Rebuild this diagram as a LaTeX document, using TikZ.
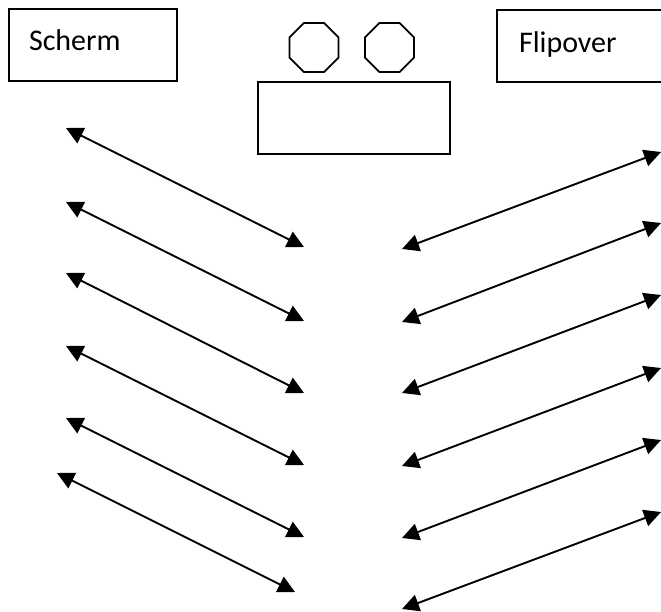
\documentclass[tikz,border=0pt]{standalone}
\usepackage{fontspec}
\setmainfont{Carlito}
\usetikzlibrary{arrows.meta,shapes.geometric}
\begin{document}
\begin{tikzpicture}[x=1pt,y=-1pt,
  box/.style={draw=black,line width=2pt,fill=white,inner sep=0pt,anchor=north west},
  octo/.style={draw=black,line width=1.8pt,regular polygon,regular polygon sides=8,minimum size=53pt,inner sep=0pt},
  dbl/.style={line width=1.9pt,{Triangle[length=17pt,width=17pt]}-{Triangle[length=17pt,width=17pt]}},
  lbl/.style={font=\fontsize{30pt}{36pt}\selectfont,text height=20pt,text depth=12pt,align=left,inner ysep=0pt}
]
\clip (0,0) rectangle (661,611);
\fill[white] (0,0) rectangle (661,611);
% boxes
\node[box,lbl,minimum width=168pt,minimum height=72pt,text width=128pt,inner xsep=20pt,text height=19pt,text depth=9pt] (scherm) at (8,8) {Scherm};
\node[box,lbl,minimum width=190pt,minimum height=72pt,text width=146pt,inner xsep=22pt,text height=19pt,text depth=7pt] (flip) at (496,9) {Flipover};
\node[octo] (oct1) at (314,47.5) {};
\node[octo] (oct2) at (389.5,47.5) {};
\node[box,minimum width=192pt,minimum height=72pt] (desk) at (257,81) {};
% left arrows
\coordinate (La1) at (66,128);  \coordinate (Lb1) at (304,247);
\coordinate (La2) at (66,202);  \coordinate (Lb2) at (304,321);
\coordinate (La3) at (66,273);  \coordinate (Lb3) at (304,393);
\coordinate (La4) at (66,346);  \coordinate (Lb4) at (304,465);
\coordinate (La5) at (66,418);  \coordinate (Lb5) at (304,537);
\coordinate (La6) at (57,473);  \coordinate (Lb6) at (295,592);
\foreach \i in {1,...,6} {\draw[dbl] (La\i) -- (Lb\i);}
% right arrows
\coordinate (Ra1) at (402,249);  \coordinate (Rb1) at (661,152);
\coordinate (Ra2) at (402,322);  \coordinate (Rb2) at (661,223);
\coordinate (Ra3) at (402,393);  \coordinate (Rb3) at (661,295);
\coordinate (Ra4) at (402,466);  \coordinate (Rb4) at (661,368);
\coordinate (Ra5) at (402,538);  \coordinate (Rb5) at (661,440);
\coordinate (Ra6) at (402,609);  \coordinate (Rb6) at (661,512);
\foreach \i in {1,...,6} {\draw[dbl] (Ra\i) -- (Rb\i);}
\end{tikzpicture}
\end{document}
